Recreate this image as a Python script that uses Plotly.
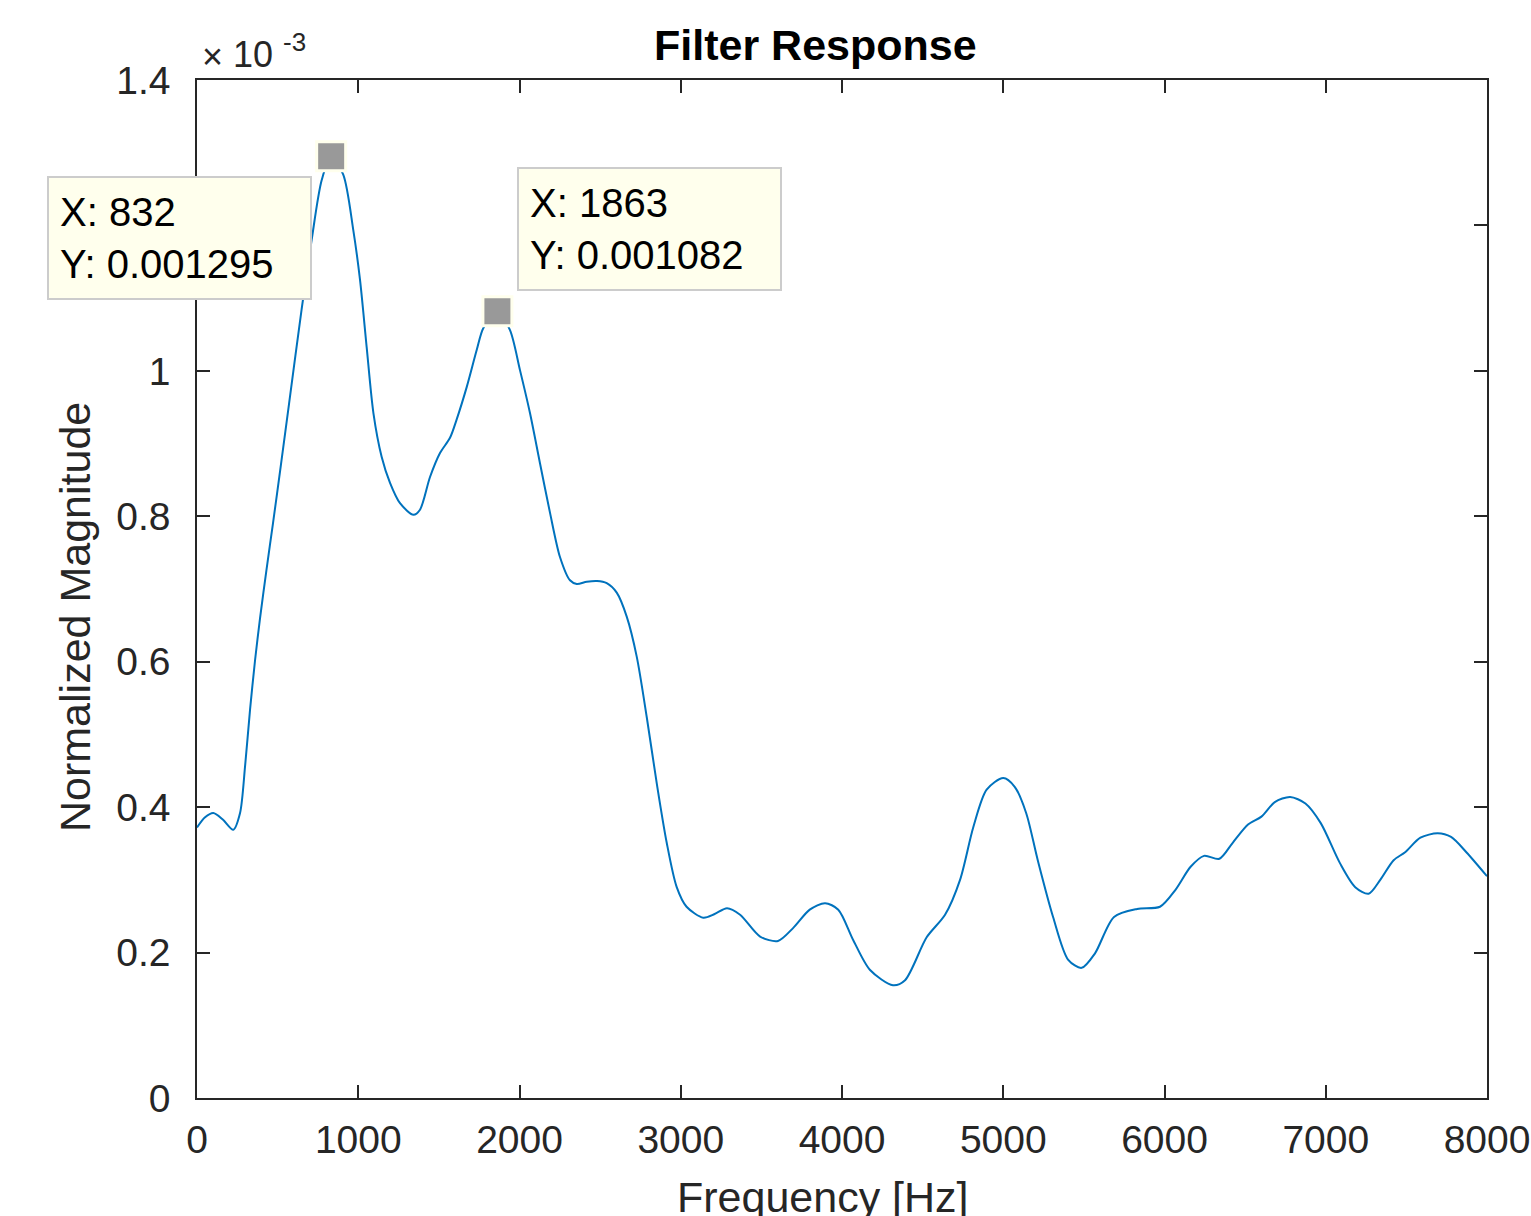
import plotly.graph_objects as go

# ---------------- data ----------------
freq_hz = [0, 50, 101, 160, 225, 267, 298, 329, 360, 391, 430, 471, 520, 571, 649, 711, 773, 832,
           907, 969, 1011, 1052, 1094, 1145, 1197, 1259, 1342, 1383, 1445, 1507, 1569, 1610, 1673,
           1735, 1776, 1863, 1941, 2003, 2065, 2127, 2189, 2251, 2313, 2355, 2417, 2481, 2541, 2603,
           2665, 2727, 2789, 2851, 2913, 2975, 3036, 3140, 3210, 3287, 3368, 3492, 3603, 3698, 3800,
           3895, 3977, 4070, 4174, 4316, 4391, 4525, 4639, 4732, 4815, 4897, 5000, 5071, 5142, 5214,
           5309, 5403, 5486, 5569, 5687, 5830, 5972, 6067, 6162, 6245, 6340, 6423, 6518, 6601, 6684,
           6779, 6874, 6969, 7088, 7183, 7266, 7338, 7421, 7492, 7587, 7694, 7777, 7872, 8000]
# normalized magnitude, in units of 1e-3
mag_milli = [0.372, 0.386, 0.392, 0.383, 0.369, 0.392, 0.456, 0.534, 0.602, 0.660, 0.725, 0.790,
             0.870, 0.955, 1.085, 1.180, 1.262, 1.295, 1.270, 1.194, 1.125, 1.033, 0.942, 0.882,
             0.846, 0.818, 0.802, 0.809, 0.854, 0.887, 0.908, 0.933, 0.978, 1.029, 1.059, 1.082,
             1.056, 1.001, 0.942, 0.873, 0.805, 0.744, 0.712, 0.707, 0.710, 0.711, 0.708, 0.695,
             0.662, 0.607, 0.524, 0.433, 0.351, 0.290, 0.263, 0.248, 0.253, 0.261, 0.252, 0.222,
             0.216, 0.234, 0.259, 0.268, 0.259, 0.217, 0.176, 0.155, 0.162, 0.221, 0.252, 0.300,
             0.373, 0.424, 0.440, 0.428, 0.392, 0.327, 0.249, 0.190, 0.179, 0.199, 0.249, 0.260,
             0.263, 0.286, 0.318, 0.333, 0.329, 0.351, 0.376, 0.387, 0.407, 0.414, 0.405, 0.378,
             0.323, 0.290, 0.281, 0.300, 0.327, 0.338, 0.358, 0.364, 0.359, 0.338, 0.305]
assert len(freq_hz) == len(mag_milli)

# data tips
tip_x = [832, 1863]
tip_y = [0.001295, 0.001082]

x_ticks = [0, 1000, 2000, 3000, 4000, 5000, 6000, 7000, 8000]
y_ticks = [0, 0.2, 0.4, 0.6, 0.8, 1.0, 1.2, 1.4]
# the "1.2" label is hidden behind the first data tip in the reference
y_tick_text = ["0", "0.2", "0.4", "0.6", "0.8", "1", "", "1.4"]

FONT = "Liberation Sans, Arial, Helvetica, sans-serif"
AXC = "#262626"

fig = go.Figure()
fig.add_trace(go.Scatter(x=freq_hz, y=mag_milli, mode="lines",
                         line=dict(color="#0072BD", width=2, shape="spline", smoothing=0.8),
                         hoverinfo="skip", showlegend=False))
fig.add_trace(go.Scatter(x=tip_x, y=[v * 1000 for v in tip_y], mode="markers",
                         marker=dict(symbol="square", size=29, color="#999999",
                                     line=dict(color="#FFFFED", width=3)),
                         hoverinfo="skip", showlegend=False))

W, H = 1531, 1216
L, R, T, B = 197, 44, 80, 118
pw, ph = W - L - R, H - T - B

def px_x(p):
    return (p - L) / pw

def px_y(p):
    return (H - B - p) / ph

axis_common = dict(showline=True, linecolor=AXC, linewidth=1.5, mirror="allticks",
                   ticks="inside", ticklen=13, tickwidth=1.5, tickcolor=AXC,
                   showgrid=False, zeroline=False, automargin=False,
                   tickfont=dict(family=FONT, size=39, color=AXC))

fig.update_layout(
    width=W, height=H, autosize=False,
    margin=dict(l=L, r=R, t=T, b=B, pad=0, autoexpand=False),
    paper_bgcolor="white", plot_bgcolor="white",
    xaxis=dict(range=[0, 8000], tickvals=x_ticks, ticklabelstandoff=6, **axis_common),
    yaxis=dict(range=[0, 1.4], tickvals=y_ticks, ticktext=y_tick_text,
               ticklabelstandoff=17, **axis_common),
)

annotations = [
    # title
    dict(text="<b>Filter Response</b>", xref="paper", yref="paper", x=px_x(815), y=px_y(45),
         xanchor="center", yanchor="middle", showarrow=False,
         font=dict(family=FONT, size=43, color="black")),
    # x label
    dict(text="Frequency [Hz]", xref="paper", yref="paper", x=px_x(823), y=px_y(1197),
         xanchor="center", yanchor="middle", showarrow=False,
         font=dict(family=FONT, size=43, color=AXC)),
    # y label
    dict(text="Normalized Magnitude", xref="paper", yref="paper", x=px_x(75), y=px_y(617),
         xanchor="center", yanchor="middle", showarrow=False, textangle=-90,
         font=dict(family=FONT, size=43, color=AXC)),
    # exponent: ×10^-3
    dict(text="×", xref="paper", yref="paper", x=px_x(200), y=px_y(57),
         xanchor="left", yanchor="middle", showarrow=False,
         font=dict(family=FONT, size=36, color=AXC)),
    dict(text="10", xref="paper", yref="paper", x=px_x(231), y=px_y(55),
         xanchor="left", yanchor="middle", showarrow=False,
         font=dict(family=FONT, size=36, color=AXC)),
    dict(text="-3", xref="paper", yref="paper", x=px_x(281), y=px_y(42),
         xanchor="left", yanchor="middle", showarrow=False,
         font=dict(family=FONT, size=26, color=AXC)),
]

tip_offsets = [(-152, -82), (152, 82)]
for xv, yv, (dx, dy) in zip(tip_x, tip_y, tip_offsets):
    annotations.append(dict(
        text=f"X: {xv}<br>Y: {yv:.6f}", x=xv, y=yv * 1000, xref="x", yref="y",
        xshift=dx, yshift=dy, xanchor="center", yanchor="middle", showarrow=False,
        align="left", width=239, height=98, borderpad=11, borderwidth=2,
        bgcolor="#FFFFED", bordercolor="#CCCCCC",
        font=dict(family=FONT, size=40, color="black")))

fig.update_layout(annotations=annotations)
fig.write_html("out.html", config={"responsive": False, "displayModeBar": False},
               post_script="document.body.style.margin='0';document.body.style.overflow='hidden';")
